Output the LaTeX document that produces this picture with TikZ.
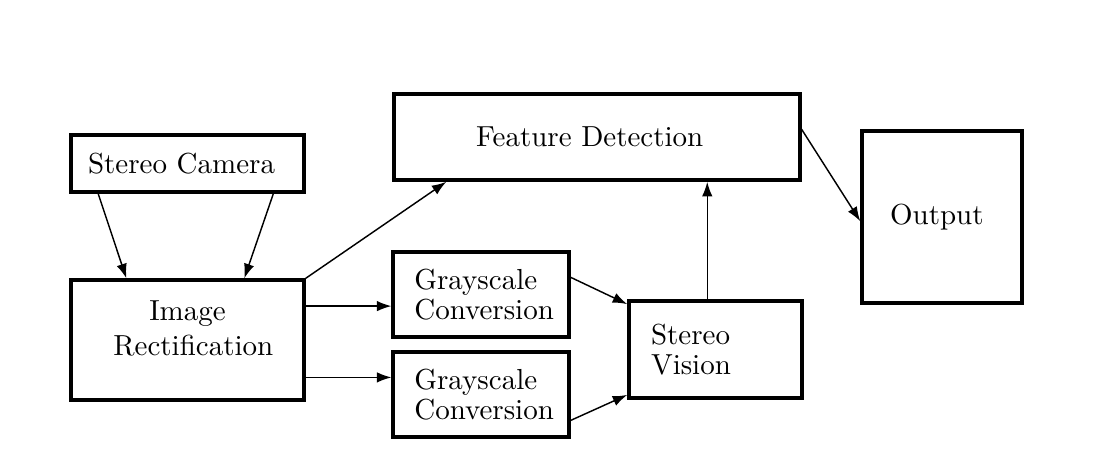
\documentclass[tikz,border=0pt]{standalone}
\usetikzlibrary{arrows.meta}
\begin{document}
\begin{tikzpicture}[x=0.345pt,y=-0.345pt,
  box/.style={draw,line width=1.2pt,inner sep=3pt,font=\normalsize},
  conn/.style={line width=0.5pt,-{Latex[length=5pt,width=3.6pt]}}]
\useasboundingbox (0,0) rectangle (1097,454);
\node[box,minimum width=80.4pt,minimum height=19.7pt,text width=68.6pt,inner xsep=5.9pt,align=left] (cam) at (187.5,163.5) {Stereo Camera};
\node[box,minimum width=80.4pt,minimum height=41.4pt,align=center,text depth=8pt] (rect) at (187.5,340) {Image\\[0pt]\hspace*{4pt}Rectification};
\node[box,minimum width=140pt,minimum height=29.7pt,text width=83.4pt,inner xsep=28.3pt,align=left] (feat) at (597,137) {Feature Detection};
\node[box,minimum width=60pt,minimum height=29.3pt,text width=46pt,inner xsep=7.3pt,align=left] (g1) at (481,294.5) {Grayscale\\[-1.5pt]Conversion};
\node[box,minimum width=60pt,minimum height=29.3pt,text width=46pt,inner xsep=7.3pt,align=left] (g2) at (481,394.5) {Grayscale\\[-1.5pt]Conversion};
\node[box,minimum width=59.7pt,minimum height=33.5pt,text width=44.5pt,inner xsep=7.6pt,align=left] (sv) at (715.5,349.5) {Stereo\\[-1.5pt]Vision};
\node[box,minimum width=55.2pt,minimum height=59.3pt,text width=35.8pt,inner xsep=9.7pt,align=left] (out) at (942,217) {Output};
\draw[conn] ([xshift=10pt]cam.south west) -- ([xshift=19.7pt]rect.north west);
\draw[conn] ([xshift=70.4pt]cam.south west) -- ([xshift=60.4pt]rect.north west);
\draw[conn] (rect.north east) -- ([xshift=18.6pt]feat.south west);
\coordinate (r1) at ([yshift=-9.6pt]rect.north east);
\coordinate (r2) at ([yshift=-34.2pt]rect.north east);
\draw[conn] (r1) -- (r1 -| g1.west);
\draw[conn] (r2) -- (r2 -| g2.west);
\draw[conn] ([yshift=-9.3pt]g1.north east) -- ([yshift=-1.7pt]sv.north west);
\draw[conn] ([yshift=-24.2pt]g2.north east) -- ([yshift=1.7pt]sv.south west);
\coordinate (s1) at ([xshift=27.6pt]sv.north west);
\draw[conn] (s1) -- (s1 |- feat.south);
\draw[conn] ([yshift=-12.8pt]feat.north east) -- ([yshift=-31.7pt]out.north west);
\end{tikzpicture}
\end{document}
